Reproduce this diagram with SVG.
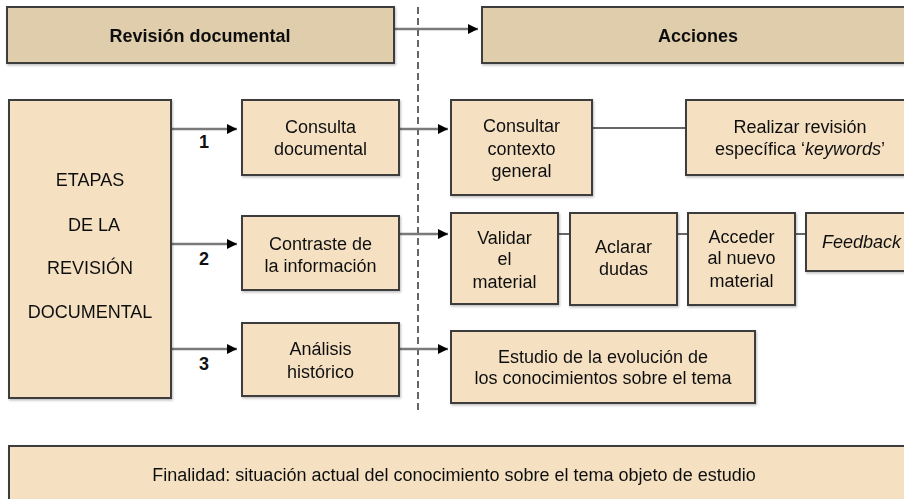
<svg xmlns="http://www.w3.org/2000/svg" width="904" height="499" viewBox="0 0 904 499">
<style>
  .hdr { fill: #dfcdab; stroke: #3c3c3c; stroke-width: 2; }
  .box { fill: #f5e1c2; stroke: #3c3c3c; stroke-width: 2; }
  text { font-family: "Liberation Sans", Arial, sans-serif; font-size: 18px; fill: #111; text-anchor: middle; }
  .b { font-weight: bold; }
  .i { font-style: italic; }
  .gl { stroke: #7a7a7a; stroke-width: 2.5; fill: none; }
  .dl { stroke: #333; stroke-width: 1.5; fill: none; }
  .dash { stroke: #333; stroke-width: 1.5; stroke-dasharray: 7 4; fill: none; }
</style>
<defs>
  <marker id="ah" viewBox="0 0 10 10" refX="10" refY="5" markerWidth="10" markerHeight="10" markerUnits="userSpaceOnUse" orient="auto">
    <path d="M0,0 L10,5 L0,10 z" fill="#000"/>
  </marker>
  <filter id="sh" x="-5%" y="-5%" width="115%" height="120%">
    <feDropShadow dx="1" dy="1.5" stdDeviation="0.8" flood-color="#000" flood-opacity="0.25"/>
  </filter>
</defs>
<rect width="904" height="499" fill="#fff"/>

<g id="connectors">
  <line class="dash" x1="418" y1="7" x2="418" y2="410"/>
  <line class="gl" x1="394" y1="29" x2="478" y2="29" marker-end="url(#ah)"/>
  <line class="gl" x1="172" y1="129" x2="237" y2="129" marker-end="url(#ah)"/>
  <line class="gl" x1="172" y1="244" x2="237" y2="244" marker-end="url(#ah)"/>
  <line class="gl" x1="172" y1="349" x2="237" y2="349" marker-end="url(#ah)"/>
  <line class="gl" x1="399" y1="129" x2="448" y2="129" marker-end="url(#ah)"/>
  <line class="gl" x1="399" y1="234" x2="448" y2="234" marker-end="url(#ah)"/>
  <line class="gl" x1="399" y1="349" x2="448" y2="349" marker-end="url(#ah)"/>
  <line class="dl" x1="592" y1="128" x2="686" y2="128"/>
  <line class="dl" x1="558" y1="234" x2="570" y2="234"/>
  <line class="dl" x1="677" y1="234" x2="688" y2="234"/>
  <line class="dl" x1="795" y1="234" x2="806" y2="234"/>
  <text class="b" x="204" y="148">1</text>
  <text class="b" x="204" y="265">2</text>
  <text class="b" x="204" y="370">3</text>
</g>

<g id="revision-documental" filter="url(#sh)">
  <rect class="hdr" x="7" y="7" width="387" height="56"/>
  <text class="b" x="200" y="42">Revisión documental</text>
</g>
<g id="acciones" filter="url(#sh)">
  <rect class="hdr" x="482" y="7" width="432" height="56"/>
  <text class="b" x="698" y="42">Acciones</text>
</g>

<g id="etapas" filter="url(#sh)">
  <rect class="box" x="9" y="100" width="162" height="298"/>
  <text x="90" y="186">ETAPAS</text>
  <text x="94" y="231">DE LA</text>
  <text x="90" y="274">REVISIÓN</text>
  <text x="90" y="318">DOCUMENTAL</text>
</g>

<g id="consulta-documental" filter="url(#sh)">
  <rect class="box" x="242" y="100" width="157" height="75"/>
  <text x="320.5" y="133">Consulta</text>
  <text x="320.5" y="155">documental</text>
</g>
<g id="contraste" filter="url(#sh)">
  <rect class="box" x="242" y="216" width="157" height="74"/>
  <text x="320.5" y="250">Contraste de</text>
  <text x="320.5" y="272">la información</text>
</g>
<g id="analisis" filter="url(#sh)">
  <rect class="box" x="242" y="323" width="157" height="73"/>
  <text x="320.5" y="355">Análisis</text>
  <text x="320.5" y="378">histórico</text>
</g>

<g id="consultar-contexto" filter="url(#sh)">
  <rect class="box" x="451" y="100" width="141" height="95"/>
  <text x="521.5" y="132">Consultar</text>
  <text x="521.5" y="155">contexto</text>
  <text x="521.5" y="177">general</text>
</g>
<g id="realizar-revision" filter="url(#sh)">
  <rect class="box" x="686" y="100" width="228" height="75"/>
  <text x="800" y="133">Realizar revisión</text>
  <text x="800" y="155">específica ‘<tspan class="i">keywords</tspan>’</text>
</g>

<g id="validar" filter="url(#sh)">
  <rect class="box" x="451" y="213" width="107" height="91"/>
  <text x="504.5" y="244">Validar</text>
  <text x="504.5" y="265">el</text>
  <text x="504.5" y="288">material</text>
</g>
<g id="aclarar" filter="url(#sh)">
  <rect class="box" x="570" y="213" width="107" height="92"/>
  <text x="623.5" y="253">Aclarar</text>
  <text x="623.5" y="275">dudas</text>
</g>
<g id="acceder" filter="url(#sh)">
  <rect class="box" x="688" y="213" width="107" height="92"/>
  <text x="741.5" y="243">Acceder</text>
  <text x="741.5" y="264">al nuevo</text>
  <text x="741.5" y="287">material</text>
</g>
<g id="feedback" filter="url(#sh)">
  <rect class="box" x="806" y="213" width="112" height="58"/>
  <text class="i" x="861.5" y="248">Feedback</text>
</g>

<g id="estudio" filter="url(#sh)">
  <rect class="box" x="451" y="331" width="304" height="72"/>
  <text x="603" y="363">Estudio de la evolución de</text>
  <text x="603" y="384">los conocimientos sobre el tema</text>
</g>

<g id="finalidad" filter="url(#sh)">
  <rect class="box" x="9" y="446" width="905" height="62"/>
  <text x="454" y="481">Finalidad: situación actual del conocimiento sobre el tema objeto de estudio</text>
</g>
</svg>
